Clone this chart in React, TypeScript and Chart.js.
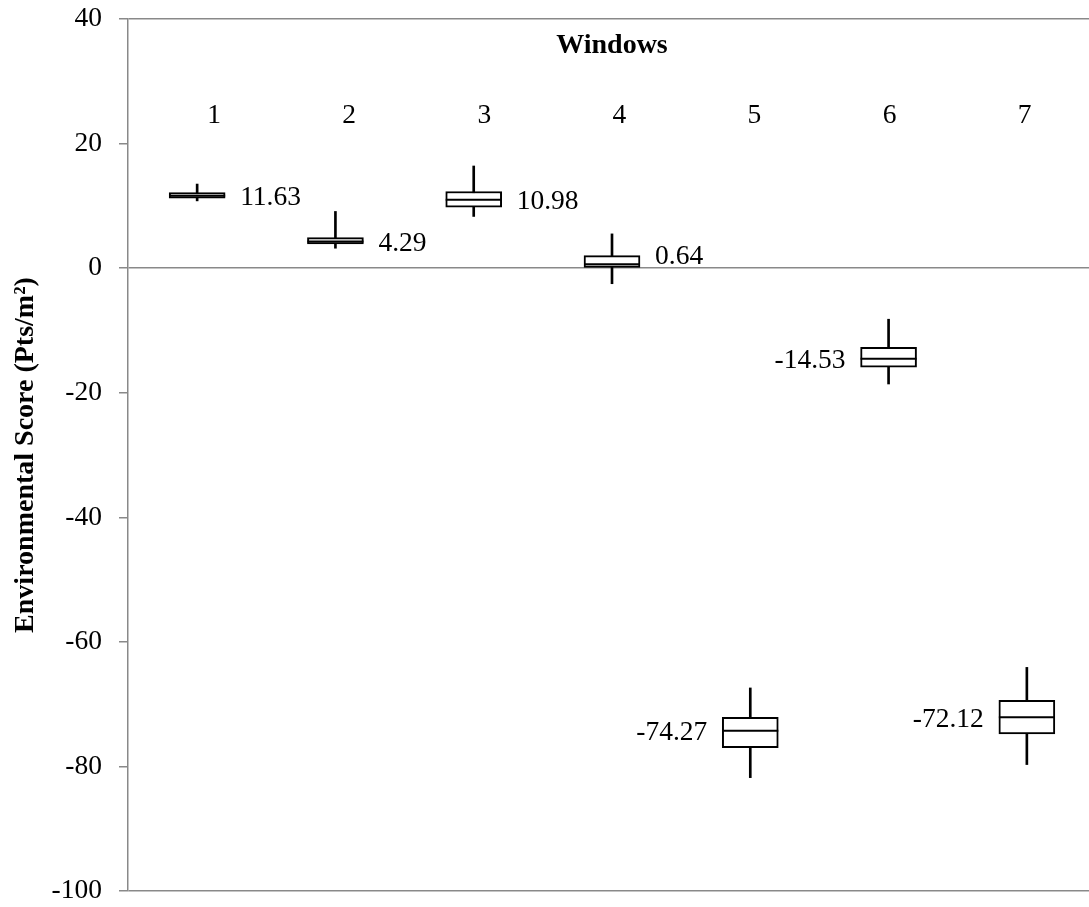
import React, { useEffect, useRef } from "react";
import { Chart, registerables } from "chart.js";

Chart.register(...registerables);

// ---- data ----
const categories = ["1", "2", "3", "4", "5", "6", "7"];
const whiskerLow = [10.8, 3.2, 8.3, -2.5, -81.8, -18.6, -79.7];
const whiskerHigh = [13.5, 9.1, 16.4, 5.5, -67.4, -8.2, -64.1];
const boxLow = [11.25, 3.9, 9.8, 0.0, -77.0, -15.9, -74.8];
const boxHigh = [12.15, 4.9, 12.3, 2.0, -72.1, -12.7, -69.4];
const medians = [11.63, 4.29, 10.98, 0.64, -74.27, -14.53, -72.12];
const labelSide = ["right", "right", "right", "right", "left", "left", "left"];
const yMin = -100;
const yMax = 40;
const yStep = 20;
const fullLineTicks = [40, 0, -100];

const GRAY = "#898989";
const FONT = '"Liberation Serif", "Times New Roman", serif';

const labelsPlugin = {
  id: "boxLabels",
  afterDatasetsDraw(chart: any) {
    const { ctx, chartArea, scales } = chart;
    const x = scales.x;
    const y = scales.y;
    ctx.save();
    ctx.fillStyle = "#000";
    ctx.textBaseline = "alphabetic";
    ctx.font = `27.5px ${FONT}`;
    const halfBox = 28;
    const gap = 15;
    medians.forEach((m, i) => {
      const px = x.getPixelForValue(i);
      let py = y.getPixelForValue(m) + 9.5;
      if (i === 3) py -= 10;
      if (labelSide[i] === "right") {
        ctx.textAlign = "left";
        ctx.fillText(m.toFixed(2), px + halfBox + gap, py);
      } else {
        ctx.textAlign = "right";
        ctx.fillText(m.toFixed(2), px - halfBox - gap, py);
      }
    });
    // category labels inside plot area
    ctx.textAlign = "center";
    categories.forEach((c, i) => {
      const px = x.getPixelForValue(i) + 17 - 3.2 * i;
      ctx.fillText(c, px, chartArea.top + 104);
    });
    // axis title "Windows"
    ctx.font = `bold 28px ${FONT}`;
    ctx.fillText("Windows", (chartArea.left + chartArea.right) / 2, chartArea.top + 33.5);
    ctx.restore();
  },
};

export default function App() {
  const canvasRef = useRef<HTMLCanvasElement | null>(null);

  useEffect(() => {
    document.body.style.margin = "0";
    const canvas = canvasRef.current;
    if (!canvas) return;
    const chart = new Chart(canvas, {
      type: "bar",
      data: {
        labels: categories,
        datasets: [
          {
            type: "line",
            label: "median",
            data: medians,
            showLine: false,
            pointStyle: "line",
            pointRadius: 28,
            pointHoverRadius: 28,
            pointBorderWidth: 2,
            pointBorderColor: "#000",
            borderColor: "#000",
            order: 1,
          } as any,
          {
            type: "bar",
            label: "box",
            data: boxLow.map((lo, i) => [lo, boxHigh[i]]),
            backgroundColor: "#fff",
            borderColor: "#000",
            borderWidth: 2,
            borderSkipped: false,
            barThickness: 56,
            grouped: false,
            order: 2,
          } as any,
          {
            type: "bar",
            label: "whisker",
            data: whiskerLow.map((lo, i) => [lo, whiskerHigh[i]]),
            backgroundColor: "#000",
            borderWidth: 0,
            barThickness: 2,
            grouped: false,
            order: 3,
          } as any,
        ],
      },
      options: {
        responsive: false,
        animation: false,
        layout: { autoPadding: false, padding: { top: 19, bottom: 16, left: 0, right: 0 } },
        plugins: {
          legend: { display: false },
          tooltip: { enabled: false },
          title: { display: false },
        },
        scales: {
          x: {
            display: false,
          },
          y: {
            min: yMin,
            max: yMax,
            afterFit: (s: any) => {
              s.width = 128;
              s.paddingTop = 0;
              s.paddingBottom = 0;
              s.paddingLeft = 0;
              s.paddingRight = 0;
            },
            ticks: {
              stepSize: yStep,
              color: "#000",
              padding: 17,
              font: { family: FONT, size: 27.5 },
            },
            grid: {
              color: (ctx: any) =>
                ctx.tick && fullLineTicks.includes(ctx.tick.value) ? GRAY : "rgba(0,0,0,0)",
              tickColor: GRAY,
              lineWidth: 1.5,
              drawTicks: true,
              tickLength: 9,
            },
            border: { display: true, color: GRAY, width: 1.5 },
            title: {
              display: true,
              text: "Environmental Score (Pts/m²)",
              color: "#000",
              font: { family: FONT, size: 28, weight: "bold" },
              padding: { top: 9, bottom: 0 },
            },
          },
        },
      },
      plugins: [labelsPlugin],
    });
    return () => chart.destroy();
  }, []);

  return (
    <div style={{ width: 1089, height: 907, overflow: "hidden" }}>
      <canvas ref={canvasRef} width={1096} height={907} style={{ display: "block" }} />
    </div>
  );
}
